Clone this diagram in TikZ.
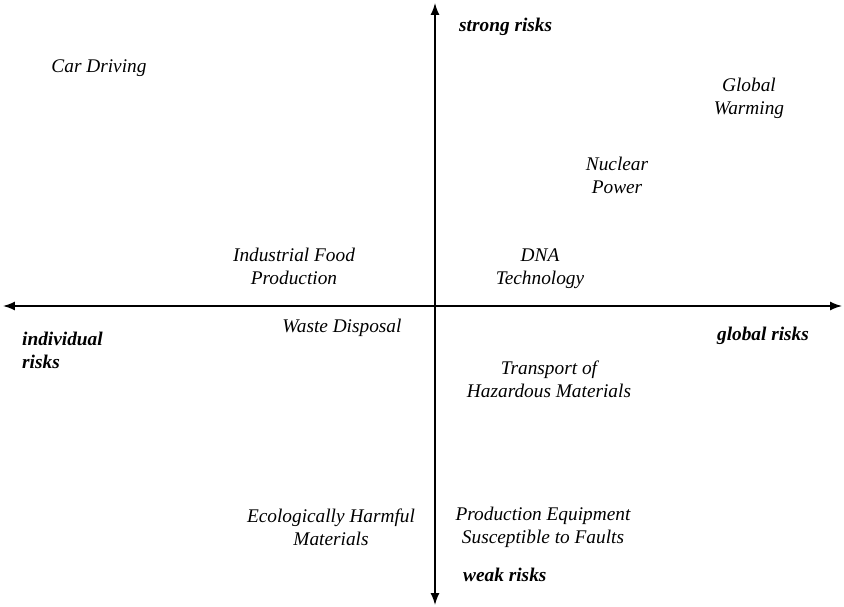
\documentclass[tikz,border=0pt]{standalone}
\usepackage{fontspec}
\setmainfont{Liberation Serif}
\usetikzlibrary{arrows.meta}
\tikzset{
  risk/.style={font=\fontsize{11}{13}\selectfont\itshape, align=center},
  pole/.style={font=\fontsize{11}{13}\selectfont\bfseries\itshape, align=left},
  axis/.style={thick, -{Latex[length=2.4mm,width=1.8mm]}}
}
\begin{document}
\begin{tikzpicture}[x=0.02cm,y=-0.02cm]
  \useasboundingbox (0,0) rectangle (844,607);
  % axes
  \coordinate (origin) at (435,306);
  \coordinate (top) at (435,3);
  \coordinate (bottom) at (435,605);
  \coordinate (left) at (3,306);
  \coordinate (right) at (842,306);
  \draw[axis] (origin) -- (top);
  \draw[axis] (origin) -- (bottom);
  \draw[axis] (origin) -- (left);
  \draw[axis] (origin) -- (right);
  % poles
  \node[pole, anchor=west] (strong) at (453,27) {strong risks};
  \node[pole, anchor=west] (weak) at (457,575) {weak risks};
  \node[pole, anchor=north west] (individual) at (16,326) {individual\\risks};
  \node[pole] (global) at (763,336) {global risks};
  % risks
  \node[risk] (car) at (99,68) {Car Driving};
  \node[risk] (warming) at (749,98) {Global\\Warming};
  \node[risk] (nuclear) at (617,175) {Nuclear\\Power};
  \node[risk] (dna) at (540,269) {DNA\\Technology};
  \node[risk] (food) at (294,266) {Industrial Food\\Production};
  \node[risk] (waste) at (342,328) {Waste Disposal};
  \node[risk] (transport) at (549,379) {Transport of\\Hazardous Materials};
  \node[risk] (ecological) at (331,527) {Ecologically Harmful\\Materials};
  \node[risk] (equipment) at (543,527) {Production Equipment\\Susceptible to Faults};
\end{tikzpicture}
\end{document}
